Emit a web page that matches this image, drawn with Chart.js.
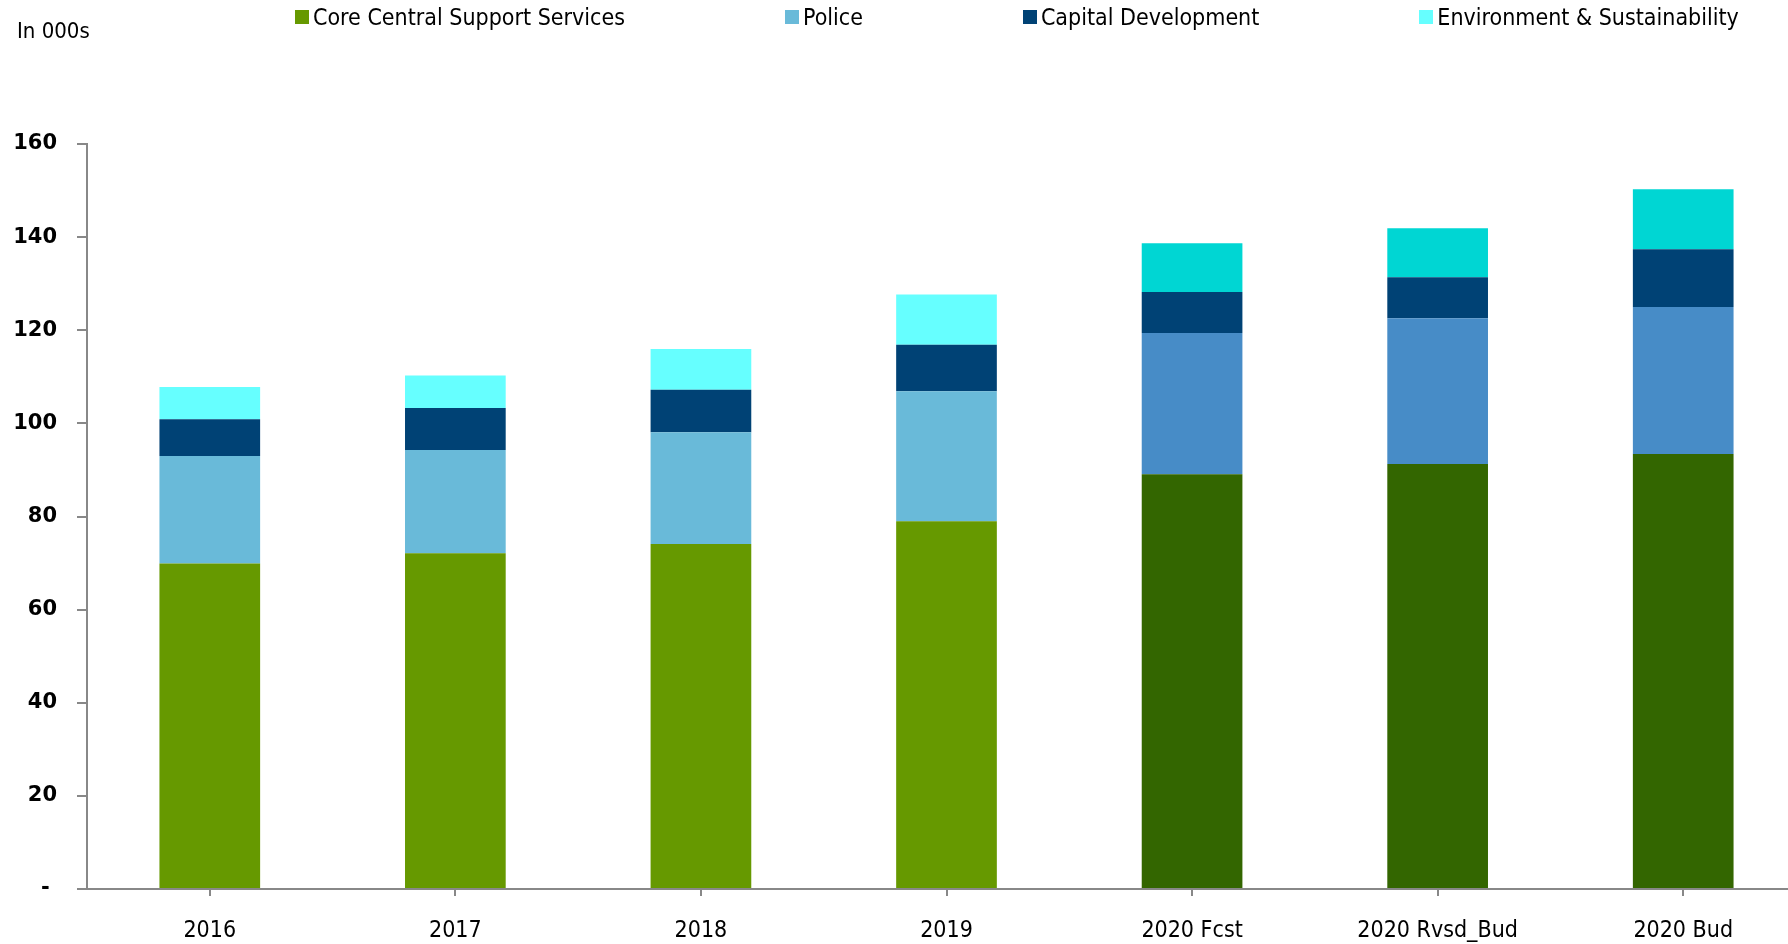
<!DOCTYPE html>
<html>
<head>
<meta charset="utf-8">
<script src="https://cdn.jsdelivr.net/npm/chart.js@4"></script>
<style>
  html, body { margin: 0; padding: 0; background: #fff; overflow: hidden; }
  #wrap { position: relative; width: 1806px; height: 944px; }
  #units { position: absolute; left: 17px; top: 18px; font: 22px "DejaVu Sans Condensed", "Liberation Sans Narrow", sans-serif; color: #000; }
  #legend { position: absolute; top: 4px; left: 295px; display: flex; gap: 160px; font: 23px "DejaVu Sans Condensed", "Liberation Sans Narrow", sans-serif; color: #000; }
  #legend span.item { display: flex; align-items: center; white-space: nowrap; }
  #legend i { display: inline-block; width: 14px; height: 14px; margin-right: 4px; }
</style>
</head>
<body>
<div id="wrap">
  <canvas id="myChart" width="1806" height="944"></canvas>
  <div id="units">In 000s</div>
  <div id="legend"></div>
</div>
<script>
var categories = ['2016', '2017', '2018', '2019', '2020 Fcst', '2020 Rvsd_Bud', '2020 Bud'];
var coreServices = [69.9, 72.1, 74.1, 79.0, 89.1, 91.3, 93.4];
var police = [23.1, 22.2, 24.0, 27.9, 30.3, 31.3, 31.6];
var capitalDev = [7.9, 9.0, 9.1, 10.0, 8.8, 8.8, 12.4];
var environment = [6.9, 7.0, 8.8, 10.8, 10.5, 10.5, 12.9];
var yTicks = [0, 20, 40, 60, 80, 100, 120, 140, 160];

// actual years use the first colour, 2020 forecast/budget columns the second
function shades(actual, plan){
    return categories.map(function(c){ return c.indexOf('2020') === 0 ? plan : actual; });
}

var series = [
    { label: 'Core Central Support Services', data: coreServices, colors: ['#669900', '#336600'] },
    { label: 'Police', data: police, colors: ['#69BAD9', '#478CC7'] },
    { label: 'Capital Development', data: capitalDev, colors: ['#004275', '#004275'] },
    { label: 'Environment & Sustainability', data: environment, colors: ['#66FFFF', '#00D6D3'] }
];

var legend = document.getElementById('legend');
series.forEach(function(s){
    var item = document.createElement('span');
    item.className = 'item';
    item.innerHTML = '<i style="background:' + s.colors[0] + '"></i>';
    item.appendChild(document.createTextNode(s.label));
    legend.appendChild(item);
});

var labelFont = { family: '"DejaVu Sans Condensed", "Liberation Sans Narrow", sans-serif', size: 23 };

window.onload = function(){
    var ctx = document.getElementById('myChart').getContext('2d');
    window.myChart = new Chart(ctx, {
        type: 'bar',
        data: {
            labels: categories,
            datasets: series.map(function(s){
                return {
                    label: s.label,
                    data: s.data,
                    backgroundColor: shades(s.colors[0], s.colors[1]),
                    borderWidth: 0,
                    categoryPercentage: 1,
                    barPercentage: 0.41
                };
            })
        },
        options: {
            responsive: false,
            animation: false,
            layout: { padding: { top: 144, right: 0, bottom: 0, left: 0 } },
            plugins: {
                legend: { display: false },
                tooltip: { enabled: false }
            },
            scales: {
                x: {
                    stacked: true,
                    grid: { drawOnChartArea: false, offset: false, tickLength: 7, color: '#888', lineWidth: 2 },
                    border: { color: '#888', width: 2 },
                    ticks: { color: '#000', font: labelFont, padding: 21, maxRotation: 0 },
                    afterFit: function(axis){ axis.height = 55; }
                },
                y: {
                    stacked: true,
                    min: 0,
                    max: 160,
                    afterBuildTicks: function(axis){
                        axis.ticks = yTicks.map(function(v){ return { value: v }; });
                    },
                    grid: { drawOnChartArea: false, tickLength: 10, color: '#888', lineWidth: 2 },
                    border: { color: '#888', width: 2 },
                    ticks: {
                        color: '#000',
                        padding: 20,
                        font: { family: '"DejaVu Sans", sans-serif', size: 21, weight: 'bold' },
                        // accounting style: zero shown as a dash
                        callback: function(v){ return v === 0 ? '- ' : v; }
                    },
                    afterFit: function(axis){ axis.width = 87; }
                }
            }
        }
    });
};
</script>
</body>
</html>
